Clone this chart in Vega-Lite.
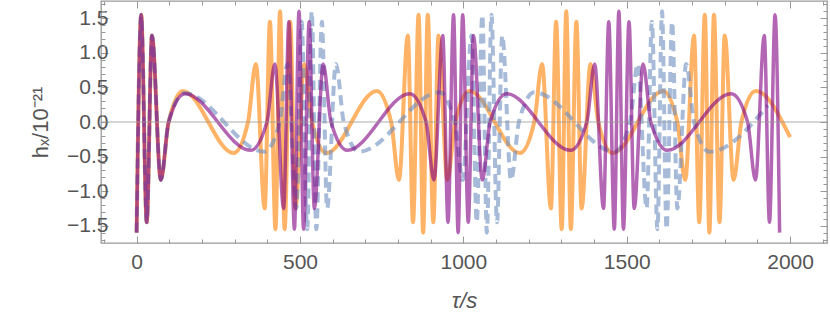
{
  "$schema": "https://vega.github.io/schema/vega-lite/v6.json",
  "width": 726,
  "height": 242,
  "autosize": "none",
  "padding": {"left": 101, "top": 1, "right": 3, "bottom": 76},
  "background": "white",
  "config": {
    "view": {"stroke": "#999999", "strokeWidth": 1.3},
    "axis": {"grid": false, "domain": false, "labelFont": "Liberation Sans", "labelFontSize": 21, "labelColor": "#555555", "tickColor": "#999999", "tickWidth": 1, "titleFont": "Liberation Sans", "titleFontSize": 22, "titleFontWeight": "normal", "titleColor": "#555555"}
  },
  "datasets": {
    "o": [
      {"t":0,"h":-1.6},{"t":14,"h":1.55},{"t":31,"h":-1.45},{"t":47,"h":1.25},{"t":74,"h":-0.84},{"t":98,"h":0},{"t":142,"h":0.45},
      {"t":297,"h":-0.45},{"t":341,"h":0},{"t":365,"h":0.84},{"t":392,"h":-1.25},{"t":408,"h":1.45},{"t":425,"h":-1.55},{"t":439,"h":1.6},{"t":453,"h":-1.55},{"t":470,"h":1.45},{"t":486,"h":-1.25},{"t":513,"h":0.84},{"t":537,"h":0},{"t":581,"h":-0.45},
      {"t":735,"h":0.45},{"t":779,"h":0},{"t":803,"h":-0.84},{"t":830,"h":1.25},{"t":846,"h":-1.45},{"t":863,"h":1.55},{"t":877,"h":-1.6},{"t":891,"h":1.55},{"t":908,"h":-1.45},{"t":924,"h":1.25},{"t":951,"h":-0.84},{"t":975,"h":0},{"t":1019,"h":0.45},
      {"t":1173,"h":-0.45},{"t":1217,"h":0},{"t":1241,"h":0.84},{"t":1268,"h":-1.25},{"t":1284,"h":1.45},{"t":1301,"h":-1.55},{"t":1315,"h":1.6},{"t":1329,"h":-1.55},{"t":1346,"h":1.45},{"t":1362,"h":-1.25},{"t":1389,"h":0.84},{"t":1413,"h":0},{"t":1457,"h":-0.45},
      {"t":1611,"h":0.45},{"t":1655,"h":0},{"t":1679,"h":-0.84},{"t":1706,"h":1.25},{"t":1722,"h":-1.45},{"t":1739,"h":1.55},{"t":1753,"h":-1.6},{"t":1767,"h":1.55},{"t":1784,"h":-1.45},{"t":1800,"h":1.25},{"t":1827,"h":-0.84},{"t":1851,"h":0},{"t":1895,"h":0.45},
      {"t":2000,"h":-0.22}
    ],
    "p": [
      {"t":0,"h":-1.6},{"t":14,"h":1.55},{"t":31,"h":-1.45},{"t":47,"h":1.25},{"t":74,"h":-0.84},{"t":98,"h":0},{"t":148,"h":0.41},
      {"t":349,"h":-0.41},{"t":399,"h":0},{"t":423,"h":0.84},{"t":450,"h":-1.25},{"t":466,"h":1.45},{"t":483,"h":-1.55},{"t":497,"h":1.6},{"t":511,"h":-1.55},{"t":528,"h":1.45},{"t":544,"h":-1.25},{"t":571,"h":0.84},{"t":595,"h":0},{"t":645,"h":-0.41},
      {"t":836,"h":0.41},{"t":886,"h":0},{"t":910,"h":-0.84},{"t":937,"h":1.25},{"t":953,"h":-1.45},{"t":970,"h":1.55},{"t":984,"h":-1.6},{"t":998,"h":1.55},{"t":1015,"h":-1.45},{"t":1031,"h":1.25},{"t":1058,"h":-0.84},{"t":1082,"h":0},{"t":1132,"h":0.41},
      {"t":1328,"h":-0.41},{"t":1378,"h":0},{"t":1402,"h":0.84},{"t":1429,"h":-1.25},{"t":1445,"h":1.45},{"t":1462,"h":-1.55},{"t":1476,"h":1.6},{"t":1490,"h":-1.55},{"t":1507,"h":1.45},{"t":1523,"h":-1.25},{"t":1550,"h":0.84},{"t":1574,"h":0},{"t":1624,"h":-0.41},
      {"t":1820,"h":0.41},{"t":1870,"h":0},{"t":1894,"h":-0.84},{"t":1921,"h":1.25},{"t":1937,"h":-1.45},{"t":1954,"h":1.55},{"t":1968,"h":-1.6}
    ],
    "b": [
      {"t":0,"h":-1.6},{"t":14,"h":1.55},{"t":31,"h":-1.45},{"t":47,"h":1.25},{"t":74,"h":-0.84},{"t":98,"h":0},{"t":146,"h":0.42},
      {"t":391,"h":-0.43},{"t":438,"h":0},{"t":462,"h":0.84},{"t":489,"h":-1.25},{"t":505,"h":1.45},{"t":522,"h":-1.55},{"t":536,"h":1.6},{"t":550,"h":-1.55},{"t":567,"h":1.45},{"t":583,"h":-1.25},{"t":610,"h":0.84},{"t":634,"h":0},{"t":681,"h":-0.43},
      {"t":927,"h":0.43},{"t":974,"h":0},{"t":998,"h":-0.84},{"t":1025,"h":1.25},{"t":1041,"h":-1.45},{"t":1058,"h":1.55},{"t":1072,"h":-1.6},{"t":1086,"h":1.55},{"t":1103,"h":-1.45},{"t":1119,"h":1.25},{"t":1146,"h":-0.84},{"t":1170,"h":0},{"t":1217,"h":0.43},
      {"t":1463,"h":-0.43},{"t":1510,"h":0},{"t":1534,"h":0.84},{"t":1561,"h":-1.25},{"t":1577,"h":1.45},{"t":1594,"h":-1.55},{"t":1608,"h":1.6},{"t":1622,"h":-1.55},{"t":1639,"h":1.45},{"t":1655,"h":-1.25},{"t":1682,"h":0.84},{"t":1706,"h":0},{"t":1753,"h":-0.43},
      {"t":1932,"h":0.24}
    ]
  },
  "layer": [
    {
      "data": {"name": "o"},
      "mark": {"type": "line", "interpolate": "monotone", "color": "#FF8000", "opacity": 0.6, "strokeWidth": 4},
      "encoding": {
        "x": {"field": "t", "type": "quantitative", "scale": {"domain": [-109, 2113], "nice": false, "zero": false},
              "axis": {"orient": "bottom", "values": [0, 500, 1000, 1500, 2000], "format": "d", "tickSize": -7, "labelPadding": 15, "title": "τ/s", "titlePadding": 18, "titleFontStyle": "italic"}},
        "y": {"field": "h", "type": "quantitative", "scale": {"domain": [-1.75, 1.75], "nice": false, "zero": false},
              "axis": {"orient": "left", "values": [-1.5, -1, -0.5, 0, 0.5, 1, 1.5], "format": ".1f", "tickSize": -7, "labelPadding": 0, "title": "hₓ/10⁻²¹", "titlePadding": 14}}
      }
    },
    {
      "data": {"name": "b"},
      "mark": {"type": "line", "interpolate": "monotone", "color": "#6C8EBF", "opacity": 0.6, "strokeWidth": 4, "strokeDash": [10, 6]},
      "encoding": {
        "x": {"field": "t", "type": "quantitative", "scale": {"domain": [-109, 2113], "nice": false, "zero": false},
              "axis": {"orient": "bottom", "values": [-100,0,100,200,300,400,500,600,700,800,900,1000,1100,1200,1300,1400,1500,1600,1700,1800,1900,2000,2100], "tickSize": -4, "labels": false, "title": null}},
        "y": {"field": "h", "type": "quantitative", "scale": {"domain": [-1.75, 1.75], "nice": false, "zero": false},
              "axis": {"orient": "left", "values": [-1.7,-1.6,-1.5,-1.4,-1.3,-1.2,-1.1,-1,-0.9,-0.8,-0.7,-0.6,-0.5,-0.4,-0.3,-0.2,-0.1,0,0.1,0.2,0.3,0.4,0.5,0.6,0.7,0.8,0.9,1,1.1,1.2,1.3,1.4,1.5,1.6,1.7], "tickSize": -4, "labels": false, "title": null}}
      }
    },
    {
      "data": {"name": "p"},
      "mark": {"type": "line", "interpolate": "monotone", "color": "#800080", "opacity": 0.6, "strokeWidth": 3.5},
      "encoding": {
        "x": {"field": "t", "type": "quantitative", "scale": {"domain": [-109, 2113], "nice": false, "zero": false},
              "axis": {"orient": "top", "values": [0, 500, 1000, 1500, 2000], "tickSize": -7, "labels": false, "title": null}},
        "y": {"field": "h", "type": "quantitative", "scale": {"domain": [-1.75, 1.75], "nice": false, "zero": false},
              "axis": {"orient": "right", "values": [-1.5, -1, -0.5, 0, 0.5, 1, 1.5], "tickSize": -7, "labels": false, "title": null}}
      }
    },
    {
      "data": {"name": "o"},
      "mark": {"type": "point", "opacity": 0},
      "encoding": {
        "x": {"field": "t", "type": "quantitative", "scale": {"domain": [-109, 2113], "nice": false, "zero": false},
              "axis": {"orient": "top", "values": [-100,0,100,200,300,400,500,600,700,800,900,1000,1100,1200,1300,1400,1500,1600,1700,1800,1900,2000,2100], "tickSize": -4, "labels": false, "title": null}},
        "y": {"field": "h", "type": "quantitative", "scale": {"domain": [-1.75, 1.75], "nice": false, "zero": false},
              "axis": {"orient": "right", "values": [-1.7,-1.6,-1.5,-1.4,-1.3,-1.2,-1.1,-1,-0.9,-0.8,-0.7,-0.6,-0.5,-0.4,-0.3,-0.2,-0.1,0,0.1,0.2,0.3,0.4,0.5,0.6,0.7,0.8,0.9,1,1.1,1.2,1.3,1.4,1.5,1.6,1.7], "tickSize": -4, "labels": false, "title": null}}
      }
    },
    {
      "data": {"values": [{"z": 0}]},
      "mark": {"type": "rule", "color": "#999999", "strokeWidth": 1, "opacity": 0.8},
      "encoding": {"y": {"field": "z", "type": "quantitative", "scale": {"domain": [-1.75, 1.75], "nice": false, "zero": false}, "axis": null}}
    }
  ],
  "resolve": {"axis": {"x": "independent", "y": "independent"}}
}
